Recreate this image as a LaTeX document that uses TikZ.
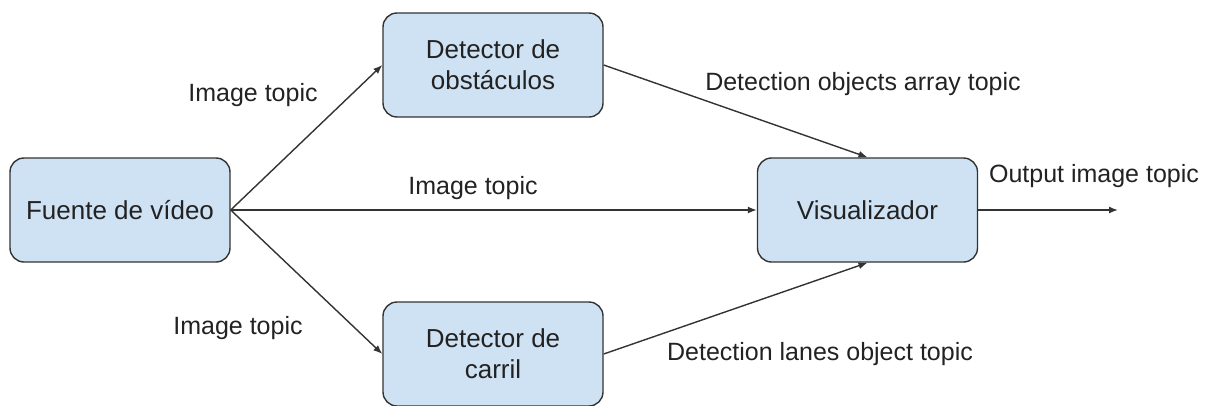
\documentclass[tikz,border=0pt]{standalone}
\usepackage{fontspec}
\setmainfont{Liberation Sans}
\usetikzlibrary{arrows.meta}
\definecolor{boxfill}{HTML}{CFE2F3}
\definecolor{boxline}{HTML}{333333}
\definecolor{txt}{HTML}{222222}
\begin{document}
\begin{tikzpicture}[x=1pt,y=-1pt,
  procbox/.style={draw=boxline,line width=1.4pt,fill=boxfill,rounded corners=14pt,
    minimum width=220pt,minimum height=104pt,inner sep=0pt,align=center,
    font=\fontsize{26}{31}\selectfont,text=txt},
  lbl/.style={font=\fontsize{25}{31}\selectfont,text=txt,inner sep=0pt},
  conn/.style={draw=boxline,line width=1.4pt,-{Latex[length=9pt,width=7pt]}}]
\useasboundingbox (0,0) rectangle (1211,405);
\node[procbox] (fuente) at (120,210) {Fuente de vídeo};
\node[procbox] (obst) at (493,65) {Detector de\\obstáculos};
\node[procbox] (carril) at (493,354) {Detector de\\carril};
\node[procbox] (vis) at (867.5,210) {Visualizador};
\coordinate (out) at (1118,210);
\draw[conn] (fuente.east) -- (obst.west);
\draw[conn] (fuente.east) -- (carril.west);
\draw[conn] (fuente.east) -- (vis.west);
\draw[conn] (obst.east) -- (vis.north);
\draw[conn] (carril.east) -- (vis.south);
\draw[conn] (vis.east) -- (out);
\node[lbl] (l1) at (253,95) {Image topic};
\node[lbl] (l2) at (473,188) {Image topic};
\node[lbl] (l3) at (238,328) {Image topic};
\node[lbl] (l4) at (863,84) {Detection objects array topic};
\node[lbl] (l5) at (820,354) {Detection lanes object topic};
\node[lbl] (l6) at (1094,176) {Output image topic};
\end{tikzpicture}
\end{document}
